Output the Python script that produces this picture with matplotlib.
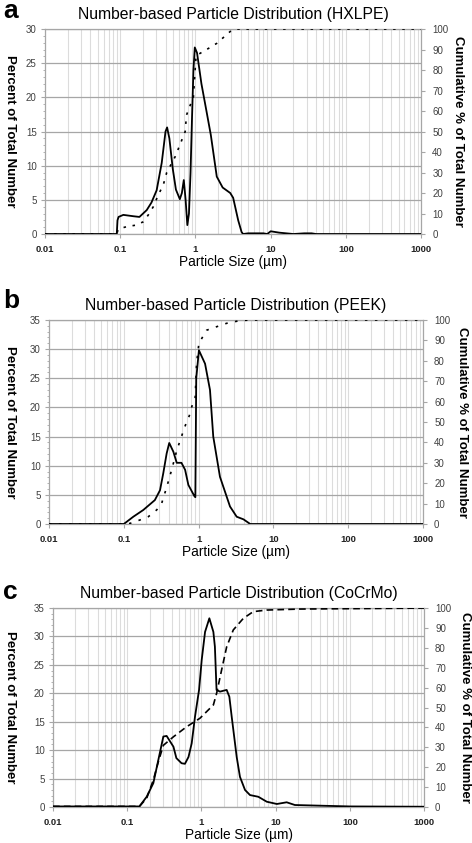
import matplotlib
matplotlib.use("Agg")
import matplotlib.pyplot as plt
from matplotlib.ticker import LogLocator, MultipleLocator, NullFormatter, FixedLocator

plt.rcParams['font.family'] = ['Liberation Sans', 'DejaVu Sans']

# ---- panel a: HXLPE ----
a_size = [0.01, 0.09, 0.092, 0.095, 0.11, 0.15, 0.18, 0.225, 0.26, 0.305, 0.356, 0.40, 0.42,
          0.45, 0.50, 0.55, 0.62, 0.66, 0.70, 0.74, 0.78, 0.82, 0.86, 0.90, 0.94, 0.98,
          1.05, 1.2, 1.4, 1.6, 1.92, 2.3, 2.9, 3.17, 3.7, 4.1, 4.3, 5.0, 8.0, 9.0, 10.0,
          13.0, 20.0, 28.0, 35.0, 40.0, 1000.0]
a_pct = [0, 0, 2.0, 2.5, 2.8, 2.6, 2.5, 3.5, 4.6, 6.4, 10.4, 15.0, 15.6,
         14.0, 9.5, 6.5, 5.1, 6.0, 7.9, 5.0, 1.3, 3.0, 9.0, 17.0, 24.0, 27.3,
         26.5, 22.0, 18.0, 14.5, 8.4, 6.8, 6.0, 5.3, 2.0, 0.3, 0, 0.1, 0.1, 0, 0.4,
         0.2, 0, 0.1, 0.1, 0, 0]
a_cum_size = [0.01, 0.09, 0.094, 0.122, 0.166, 0.203, 0.236, 0.275, 0.32, 0.374, 0.415,
              0.483, 0.537, 0.62, 0.73, 0.76, 0.94, 0.99, 1.02, 1.41, 1.92, 2.9, 3.5, 1000.0]
a_cum = [0, 0, 2.4, 3.6, 4.4, 6.0, 9.3, 13.3, 19.0, 24.0, 30.0,
         34.5, 37.7, 43.4, 50.0, 58.0, 67.0, 80.0, 87.0, 90.0, 93.0, 98.8, 100, 100]

# ---- panel b: PEEK ----
b_size = [0.01, 0.1, 0.134, 0.182, 0.26, 0.305, 0.337, 0.374, 0.405, 0.46, 0.51, 0.59,
          0.66, 0.73, 0.877, 0.905, 0.93, 1.01, 1.22, 1.42, 1.57, 1.93, 2.63, 3.23, 3.98,
          4.9, 1000.0]
b_pct = [0, 0, 1.25, 2.4, 4.1, 5.8, 8.7, 12.1, 13.9, 12.4, 10.5, 10.5,
         9.3, 6.7, 4.8, 4.6, 25.0, 29.8, 27.5, 23.0, 15.0, 8.1, 3.0, 1.25, 0.8,
         0, 0]
b_cum_size = [0.01, 0.1, 0.121, 0.165, 0.213, 0.275, 0.32, 0.374, 0.436, 0.51, 0.61, 0.69,
              0.75, 0.81, 0.9, 0.94, 1.01, 1.28, 1.74, 2.38, 3.57, 5.0, 1000.0]
b_cum = [0, 0, 0.3, 2.0, 3.6, 6.9, 10.0, 18.0, 26.5, 36.0, 44.4, 50.0,
         53.0, 57.5, 62.0, 79.0, 88.6, 95.0, 96.7, 98.4, 99.7, 100, 100]

# ---- panel c: CoCrMo ----
c_size = [0.01, 0.146, 0.183, 0.225, 0.263, 0.307, 0.34, 0.42, 0.46, 0.54, 0.60, 0.67,
          0.74, 0.82, 0.93, 1.01, 1.12, 1.28, 1.45, 1.52, 1.6, 1.78, 2.19, 2.38, 2.56,
          2.99, 3.31, 3.87, 4.52, 5.85, 7.6, 10.4, 14.1, 18.2, 35.6, 100.0, 1000.0]
c_pct = [0.1, 0.1, 1.8, 4.2, 8.3, 12.4, 12.5, 10.6, 8.6, 7.7, 7.6, 8.8,
         11.2, 15.9, 20.6, 25.9, 30.8, 33.2, 30.8, 28.2, 20.6, 20.3, 20.6, 19.4, 15.9,
         8.8, 5.3, 3.0, 2.1, 1.8, 0.93, 0.53, 0.83, 0.35, 0.25, 0.1, 0.05]
c_cum_size = [0.01, 0.146, 0.183, 0.225, 0.263, 0.307, 0.42, 0.63, 0.955, 1.45, 1.6, 1.87,
              2.19, 2.69, 3.67, 5.0, 7.6, 21.5, 1000.0]
c_cum = [0.3, 0.3, 4.4, 13.6, 22.8, 31.0, 35.3, 40.3, 44.6, 51.3, 57.0, 68.8,
         80.5, 89.0, 94.8, 98.2, 99.0, 99.5, 100]

panels = [
    ("a", "Number-based Particle Distribution (HXLPE)", a_size, a_pct, a_cum_size, a_cum,
     30, (0.0953, 0.7224, 0.797, 0.2432), (0, (1.5, 4.0)), 11, 458),
    ("b", "Number-based Particle Distribution (PEEK)", b_size, b_pct, b_cum_size, b_cum,
     35, (0.1038, 0.3784, 0.7924, 0.2420), (0, (1.5, 4.5)), 301, 462),
    ("c", "Number-based Particle Distribution (CoCrMo)", c_size, c_pct, c_cum_size, c_cum,
     35, (0.1123, 0.0427, 0.7860, 0.2360), (0, (4.0, 2.5)), 592, 465),
]

grid_major = "#a6a6a6"
grid_minor = "#dcdcdc"
tick_col = "#404040"

W, H = 472, 843
fig = plt.figure(figsize=(W / 100, H / 100), dpi=100)

for letter, title, xs, ys, cxs, cys, ymax, rect, cum_style, letter_y, rlab_x in panels:
    ax = fig.add_axes(rect)
    ax.set_xscale("log")
    ax.set_xlim(0.01, 1000)
    ax.set_ylim(0, ymax)
    ax.yaxis.set_major_locator(MultipleLocator(5))
    ax.yaxis.set_minor_locator(MultipleLocator(1))
    ax.xaxis.set_major_locator(FixedLocator([0.01, 0.1, 1, 10, 100, 1000]))
    ax.xaxis.set_minor_locator(LogLocator(base=10, subs=range(2, 10), numticks=20))
    ax.xaxis.set_minor_formatter(NullFormatter())
    ax.set_xticklabels(["0.01", "0.1", "1", "10", "100", "1000"])
    ax.grid(True, which="major", axis="y", color=grid_major, lw=0.9)
    ax.grid(True, which="both", axis="x", color=grid_minor, lw=0.8)
    ax.set_axisbelow(True)
    for sp in ax.spines.values():
        sp.set_color(grid_major)
        sp.set_linewidth(0.9)
    ax.tick_params(axis="y", which="major", length=3, color=grid_major,
                   labelsize=7, labelcolor=tick_col, pad=3)
    ax.tick_params(axis="x", which="major", length=3, color=grid_major,
                   labelsize=6.8, labelcolor="#222222", pad=5)
    ax.tick_params(axis="y", which="minor", length=1.5, color=grid_major)
    ax.tick_params(axis="x", which="minor", length=0)
    for lab in ax.get_xticklabels():
        lab.set_fontweight("bold")

    ax.plot(xs, ys, color="black", lw=1.3, zorder=4)

    ax2 = ax.twinx()
    ax2.set_ylim(0, 100)
    ax2.yaxis.set_major_locator(MultipleLocator(10))
    ax2.tick_params(axis="y", length=3, color=grid_major, labelsize=7,
                    labelcolor=tick_col, pad=5)
    for sp in ax2.spines.values():
        sp.set_visible(False)
    ax2.plot(cxs, cys, color="black", lw=1.2, linestyle=cum_style, zorder=3)

    ax.set_xlabel("Particle Size (µm)", fontsize=9.8, labelpad=0.5)
    ax.set_ylabel("Percent of Total Number", fontsize=9.5, fontweight="bold",
                  rotation=-90, va="center")
    ax.yaxis.set_label_coords(10 / W, rect[1] + rect[3] / 2, transform=fig.transFigure)
    ax2.set_ylabel("Cumulative % of Total Number", fontsize=9.5, fontweight="bold",
                   rotation=-90, va="center")
    ax2.yaxis.set_label_coords(rlab_x / W, rect[1] + rect[3] / 2, transform=fig.transFigure)
    ax.set_title(title, fontsize=11.3, pad=7)

    fig.text(3 / W, 1 - letter_y / H, letter, fontsize=19, fontweight="bold",
             ha="left", va="center")

fig.savefig("out.png", dpi=100)
